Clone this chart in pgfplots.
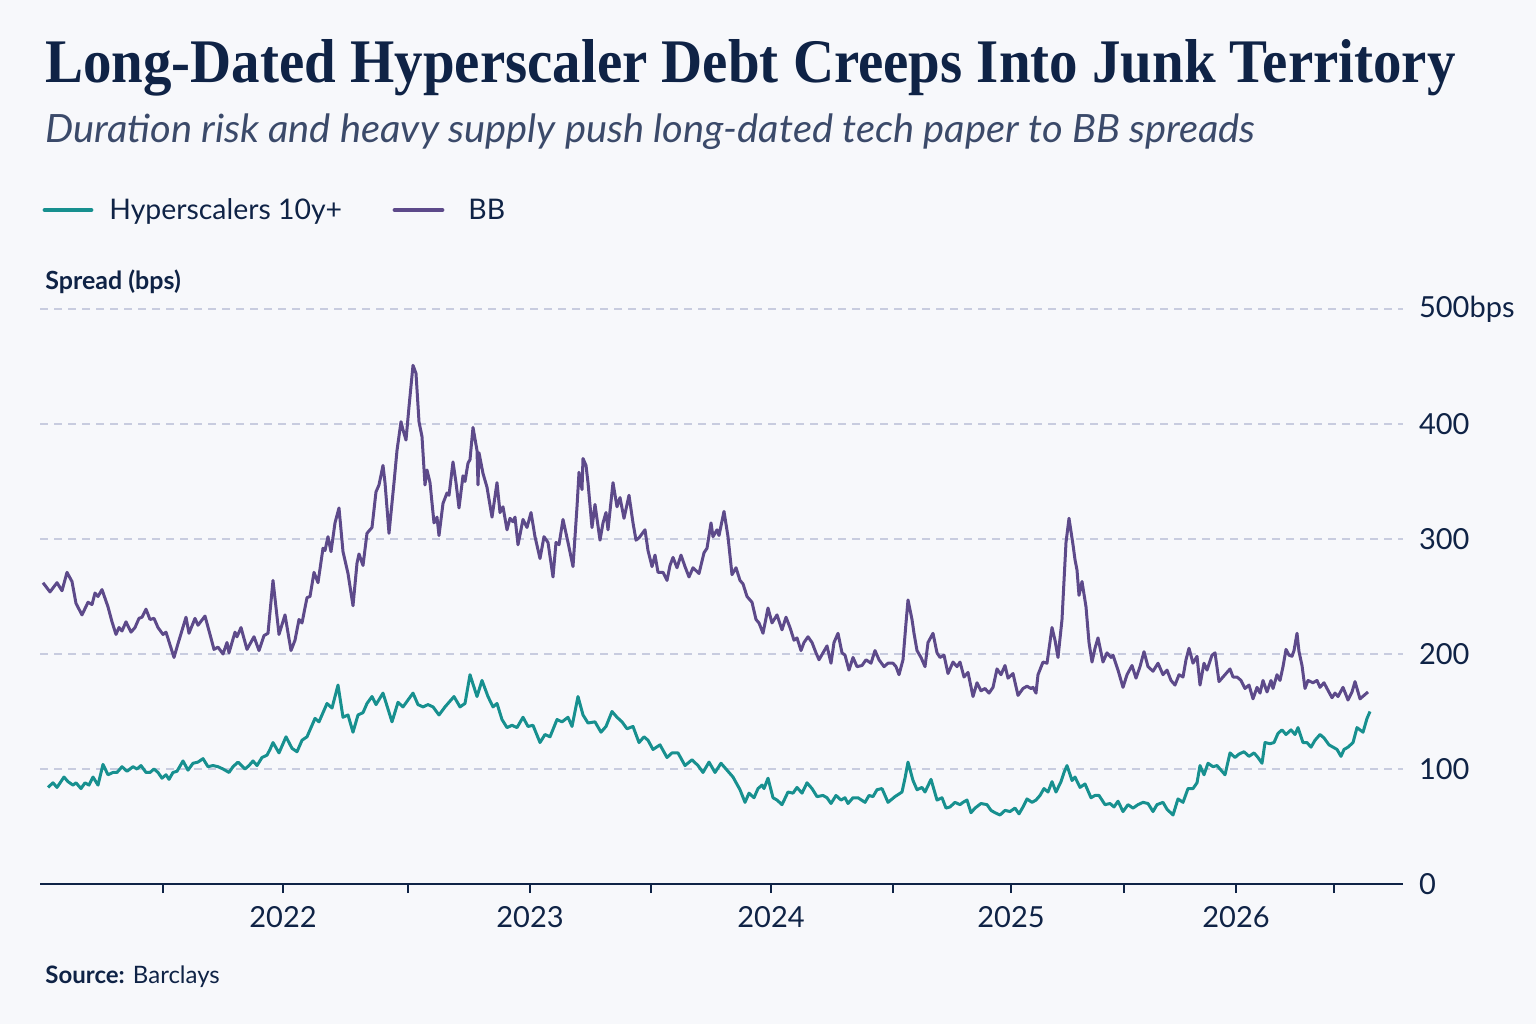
\documentclass[border=0pt]{standalone}
\usepackage{pgfplots}
\pgfplotsset{compat=1.18}
\usepackage{fontspec}
\setmainfont{Lato}
\newfontfamily\titlefont{Liberation Serif}
\definecolor{navy}{HTML}{0F2346}
\definecolor{subc}{HTML}{3B4A6A}
\definecolor{tealc}{HTML}{17908F}
\definecolor{purpc}{HTML}{5D4A8A}
\definecolor{gridc}{HTML}{C8CCDF}
\definecolor{bgc}{HTML}{F7F8FB}
\begin{document}
\begin{tikzpicture}[x=1pt,y=1pt]
\fill[bgc] (0,0) rectangle (768,512);
\useasboundingbox (0,0) rectangle (768,512);
\node[anchor=base west, inner sep=0, text=navy] at (22.5,470.5) {\resizebox{705pt}{\height}{\fontsize{31}{36}\titlefont\bfseries Long-Dated Hyperscaler Debt Creeps Into Junk Territory}};
\node[anchor=base west, inner sep=0, text=subc] at (22.5,440.5) {\resizebox{605pt}{\height}{\fontsize{19.5}{24}\selectfont\itshape Duration risk and heavy supply push long-dated tech paper to BB spreads}};
\draw[tealc, line width=2.4pt, line cap=round] (22.5,407) -- (45.5,407);
\node[anchor=base west, inner sep=0, text=navy] at (54.5,402) {\fontsize{14.2}{17}\selectfont Hyperscalers 10y+};
\draw[purpc, line width=2.4pt, line cap=round] (197.5,407) -- (221,407);
\node[anchor=base west, inner sep=0, text=navy] at (234,402) {\fontsize{14.2}{17}\selectfont BB};
\node[anchor=base west, inner sep=0, text=navy] at (22.5,367) {\fontsize{12.5}{15}\selectfont\bfseries Spread (bps)};
\node[anchor=base west, inner sep=0, text=navy] at (22.5,20.5) {\fontsize{12}{14}\selectfont\textbf{Source:} Barclays};
\begin{axis}[at={(20pt,70pt)}, anchor=south west, scale only axis,
  width=681.5pt, height=287.5pt,
  xmin=40, xmax=1403, ymin=0, ymax=500,
  axis x line*=bottom, axis y line*=right,
  x axis line style={navy, line width=1.3pt, -},
  y axis line style={draw=none},
  xtick={163,283,408,530,651,771,893,1011,1124,1236,1334},
  xticklabels={,2022,,2023,,2024,,2025,,2026,},
  tick align=outside, major tick length=4.5pt,
  xtick style={navy, line width=1pt},
  xticklabel style={text=navy, font=\fontsize{14.5}{17}\selectfont, yshift=-3pt},
  ytick={0,100,200,300,400,500},
  yticklabels={0,100,200,300,400,500bps},
  ytick style={draw=none},
  yticklabel style={text=navy, font=\fontsize{14.5}{17}\selectfont, anchor=west, xshift=0pt},
  ymajorgrids, grid style={gridc, line width=0.6pt, dash pattern=on 4pt off 3pt},
  clip=false]
\addplot[purpc, line width=1.5pt, line join=round] coordinates {
(43,262)(50,254)(57,262)(62,255)(67,271)(72,263)(76,244)(82,234)(88,245)(92,243)(95,253)(98,250)(102,256)(108,241)(112,228)(116,217)(119,223)(122,220)(126,228)(131,219)(135,223)(139,231)(142,232)(146,239)(150,230)(154,231)(158,223)(163,217)(166,219)(170,208)(174,197)(178,209)(186,232)(189,218)(195,231)(198,225)(205,233)(210,217)(214,204)(218,206)(223,200)(227,210)(229,201)(235,219)(237,215)(241,223)(247,204)(254,215)(259,203)(264,216)(268,218)(273,264)(279,217)(285,234)(291,203)(295,212)(299,230)(302,227)(307,249)(310,250)(314,271)(318,262)(323,292)(325,290)(328,302)(331,289)(335,314)(339,327)(343,289)(348,270)(353,242)(357,279)(359,287)(363,277)(367,305)(372,310)(376,341)(379,347)(383,364)(385,349)(389,305)(394,349)(397,377)(401,402)(403,395)(406,386)(409,415)(413,451)(416,444)(419,402)(422,389)(425,347)(427,360)(430,349)(434,314)(437,319)(439,303)(443,331)(447,340)(449,338)(453,367)(456,349)(459,327)(463,355)(465,350)(468,366)(470,369)(473,397)(477,377)(478,347)(479,375)(483,357)(487,345)(492,319)(497,349)(500,323)(503,328)(507,308)(510,318)(513,315)(515,319)(518,295)(523,317)(527,310)(531,323)(535,302)(540,283)(544,302)(548,297)(553,267)(556,297)(559,295)(563,317)(568,297)(573,276)(577,328)(579,358)(582,343)(583,370)(586,364)(588,349)(592,310)(595,330)(600,299)(603,314)(606,323)(608,308)(613,349)(617,328)(620,336)(624,318)(629,338)(633,314)(636,299)(639,301)(645,308)(648,290)(652,276)(655,286)(658,271)(663,271)(667,264)(670,277)(673,284)(677,275)(681,286)(685,276)(689,267)(693,275)(699,270)(704,288)(707,292)(711,314)(713,302)(717,308)(719,303)(724,324)(728,302)(732,269)(736,275)(740,264)(743,261)(747,250)(752,245)(756,230)(759,227)(763,218)(768,240)(772,227)(777,234)(782,221)(786,232)(790,223)(794,212)(797,214)(801,203)(804,210)(808,215)(812,210)(816,201)(819,195)(823,201)(827,207)(831,192)(834,210)(838,218)(842,201)(845,199)(849,186)(853,197)(857,189)(862,190)(866,195)(871,192)(875,203)(879,195)(884,189)(888,192)(893,192)(896,189)(899,182)(903,195)(906,227)(908,247)(912,230)(914,218)(917,203)(921,197)(925,189)(928,210)(933,218)(937,201)(940,197)(944,199)(948,183)(953,193)(957,189)(960,193)(964,180)(968,184)(973,163)(977,175)(981,168)(985,170)(989,166)(993,171)(997,187)(1001,182)(1005,190)(1008,179)(1013,183)(1018,164)(1023,170)(1027,172)(1031,170)(1033,171)(1036,166)(1038,182)(1043,193)(1047,192)(1052,223)(1055,212)(1058,197)(1062,230)(1066,297)(1069,318)(1073,295)(1075,282)(1077,273)(1079,251)(1082,263)(1086,241)(1089,210)(1092,193)(1095,205)(1098,214)(1103,193)(1107,201)(1111,197)(1113,199)(1118,186)(1123,171)(1127,182)(1132,190)(1136,179)(1140,189)(1144,202)(1148,189)(1153,185)(1158,192)(1163,182)(1167,186)(1171,177)(1175,173)(1179,182)(1183,180)(1186,195)(1189,205)(1193,192)(1197,198)(1200,173)(1204,192)(1207,186)(1212,199)(1215,201)(1219,176)(1223,180)(1227,184)(1230,187)(1233,180)(1237,180)(1241,177)(1245,170)(1249,173)(1253,161)(1257,171)(1260,166)(1263,177)(1267,167)(1271,177)(1273,170)(1277,182)(1280,177)(1283,189)(1286,204)(1289,199)(1292,198)(1294,203)(1297,218)(1299,202)(1302,190)(1305,170)(1308,177)(1313,175)(1317,177)(1320,171)(1324,175)(1327,170)(1332,162)(1335,166)(1338,163)(1343,171)(1348,160)(1352,167)(1355,176)(1360,161)(1364,164)(1368,167)
};
\addplot[tealc, line width=1.5pt, line join=round] coordinates {
(48,84)(53,88)(57,84)(64,93)(68,89)(73,86)(76,88)(81,83)(85,88)(89,86)(93,93)(98,86)(103,104)(108,95)(113,97)(117,97)(122,102)(127,98)(133,102)(137,100)(141,103)(146,97)(150,97)(154,100)(158,97)(162,92)(166,95)(169,91)(173,97)(177,98)(183,107)(188,99)(193,105)(198,106)(203,109)(208,102)(213,103)(218,102)(223,100)(229,97)(233,102)(238,106)(245,100)(249,103)(253,107)(257,103)(262,110)(267,112)(270,117)(273,123)(279,114)(286,128)(292,118)(297,115)(302,125)(307,128)(315,144)(319,141)(327,157)(332,153)(338,173)(343,145)(348,147)(353,132)(358,147)(363,149)(367,157)(372,163)(376,156)(383,166)(392,141)(398,158)(403,154)(408,160)(413,166)(418,156)(423,154)(428,156)(433,154)(439,147)(445,154)(454,163)(460,154)(465,157)(470,182)(477,163)(482,177)(488,163)(493,154)(497,157)(502,143)(507,136)(512,138)(517,136)(523,145)(528,137)(533,138)(540,123)(545,130)(550,128)(557,143)(562,141)(568,145)(572,137)(578,163)(583,147)(588,140)(595,141)(601,132)(606,137)(612,150)(617,145)(622,141)(627,135)(633,137)(639,123)(644,128)(648,125)(653,117)(660,121)(667,110)(672,114)(678,114)(685,103)(692,108)(698,103)(703,97)(709,106)(715,97)(721,105)(727,99)(733,93)(740,82)(745,71)(749,79)(754,75)(758,83)(762,86)(764,83)(768,92)(773,75)(777,73)(782,69)(788,80)(793,79)(797,84)(802,79)(807,88)(812,83)(817,76)(823,77)(827,75)(831,70)(836,77)(841,73)(845,75)(848,70)(853,75)(858,75)(865,71)(869,77)(873,76)(877,82)(882,83)(888,71)(895,76)(902,80)(905,92)(908,106)(913,90)(917,82)(922,84)(925,80)(931,91)(937,73)(942,75)(946,66)(950,67)(955,71)(960,69)(963,71)(967,73)(971,62)(975,66)(981,70)(987,69)(991,64)(995,62)(1000,60)(1005,64)(1010,63)(1015,66)(1019,61)(1023,67)(1027,74)(1032,71)(1036,73)(1040,77)(1044,83)(1048,80)(1052,89)(1056,80)(1061,89)(1064,97)(1067,103)(1072,90)(1075,93)(1080,84)(1085,87)(1091,75)(1095,77)(1099,77)(1105,69)(1110,70)(1114,67)(1118,72)(1123,63)(1128,69)(1133,66)(1138,69)(1143,71)(1148,70)(1153,63)(1157,69)(1163,71)(1167,65)(1173,60)(1178,74)(1183,71)(1188,83)(1193,83)(1197,88)(1200,103)(1204,95)(1208,105)(1213,102)(1217,103)(1221,99)(1225,95)(1230,114)(1235,110)(1239,113)(1244,115)(1249,111)(1254,114)(1258,110)(1262,105)(1265,123)(1270,122)(1274,123)(1278,131)(1282,134)(1286,130)(1291,134)(1295,130)(1298,136)(1303,123)(1307,123)(1311,119)(1315,125)(1320,130)(1324,127)(1329,121)(1333,119)(1337,117)(1341,111)(1344,117)(1348,119)(1353,123)(1357,136)(1360,134)(1363,132)(1367,144)(1370,150)
};
\end{axis}
\end{tikzpicture}
\end{document}
